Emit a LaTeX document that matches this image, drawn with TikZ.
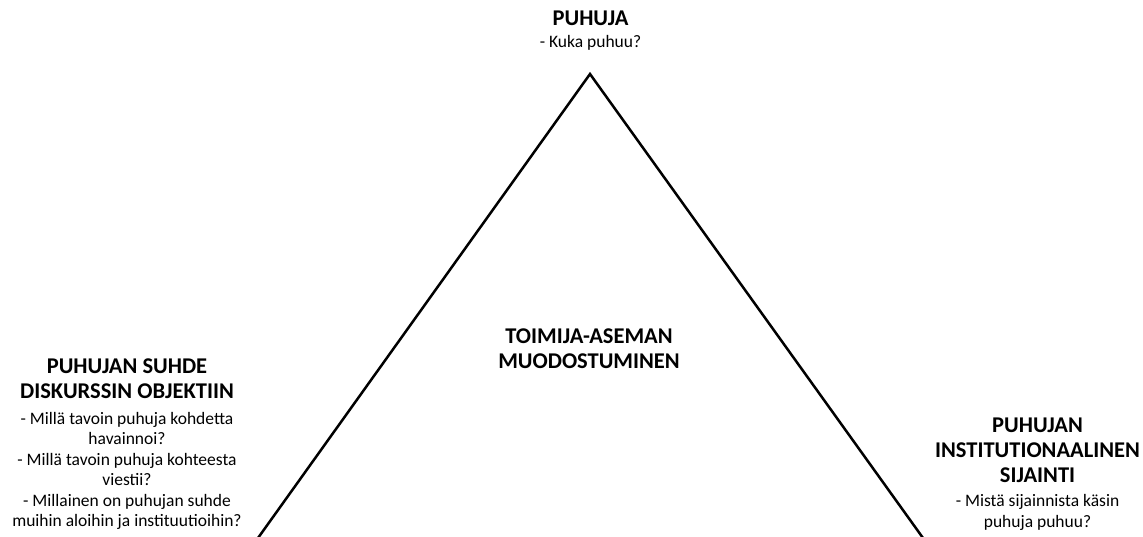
\documentclass[tikz,border=0pt]{standalone}
\usepackage{fontspec}
\setmainfont{Carlito}
\tikzset{
  ttl/.style={font=\bfseries\fontsize{22.5}{25}\selectfont, align=center, inner sep=0pt, anchor=base},
  bdy/.style={font=\fontsize{17.5}{20.5}\selectfont, align=center, inner sep=0pt, anchor=base},
  edge/.style={line width=2.5pt, line join=miter}
}
\begin{document}
\begin{tikzpicture}[x=1pt,y=-1pt]
\useasboundingbox (0,0) rectangle (1143,536);
\clip (0,0) rectangle (1143,536);
\coordinate (apex) at (590,74);
\coordinate (bl) at (258,538);
\coordinate (br) at (923,538);
\draw[edge] (bl) -- (apex) -- (br);
% base anchor of a multi-line node = baseline of its last line
\node[ttl] (toptitle) at (590.5,25.5) {PUHUJA};
\node[bdy] (topbody) at (590.5,47.5) {- Kuka puhuu?};
\node[ttl] (ctitle) at (589,368) {TOIMIJA-ASEMAN\\MUODOSTUMINEN};
\node[ttl] (ltitle) at (127,398) {PUHUJAN SUHDE\\DISKURSSIN OBJEKTIIN};
\node[bdy] (lbody) at (127,526.5) {- Millä tavoin puhuja kohdetta\\havainnoi?\\- Millä tavoin puhuja kohteesta\\viestii?\\- Millainen on puhujan suhde\\muihin aloihin ja instituutioihin?};
\node[ttl] (rtitle) at (1037.5,482) {PUHUJAN\\INSTITUTIONAALINEN\\SIJAINTI};
\node[bdy] (rbody) at (1037.5,527) {- Mistä sijainnista käsin\\puhuja puhuu?};
\end{tikzpicture}
\end{document}
